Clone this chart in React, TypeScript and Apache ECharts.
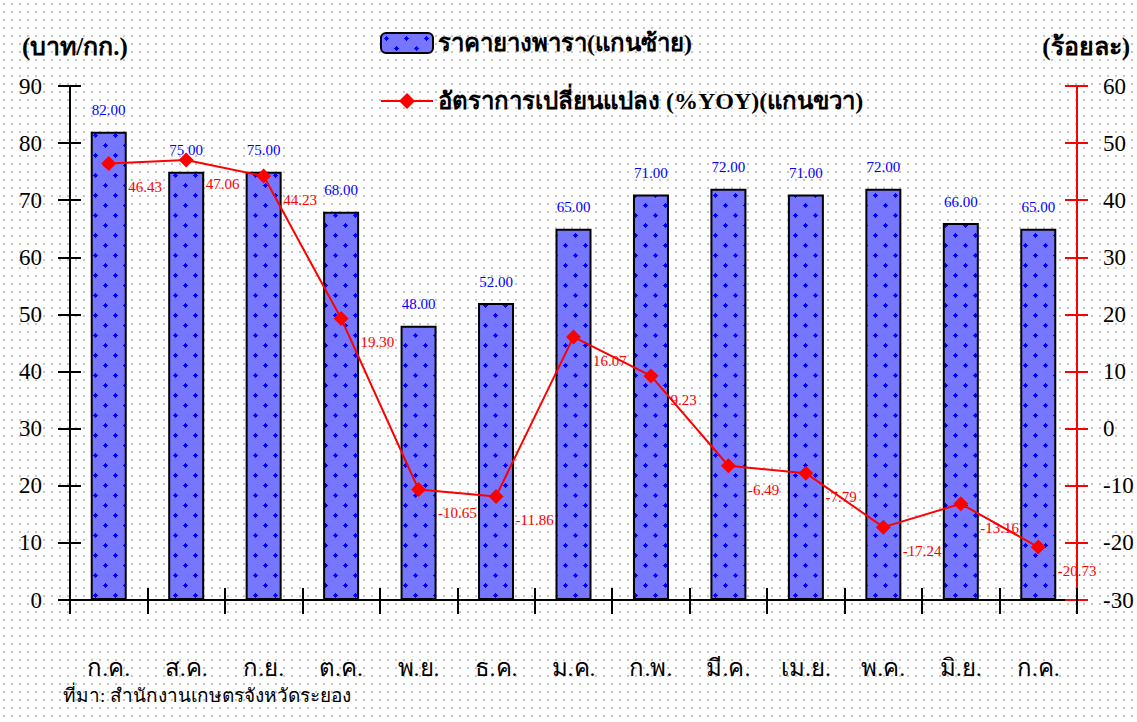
import React, { useEffect, useRef } from "react";
import * as echarts from "echarts";

const categories = ["ก.ค.", "ส.ค.", "ก.ย.", "ต.ค.", "พ.ย.", "ธ.ค.", "ม.ค.", "ก.พ.", "มี.ค.", "เม.ย.", "พ.ค.", "มิ.ย.", "ก.ค."];
const priceValues = [82, 75, 75, 68, 48, 52, 65, 71, 72, 71, 72, 66, 65];
const yoyValues = [46.43, 47.06, 44.23, 19.3, -10.65, -11.86, 16.07, 9.23, -6.49, -7.79, -17.24, -13.16, -20.73];
const leftTicks = { min: 0, max: 90, interval: 10 };
const rightTicks = { min: -30, max: 60, interval: 10 };

const FONT = "'Liberation Serif', 'DejaVu Serif', serif";

function makeBarPattern(): HTMLCanvasElement {
  const c = document.createElement("canvas");
  c.width = 20;
  c.height = 20;
  const ctx = c.getContext("2d")!;
  ctx.fillStyle = "#7676ff";
  ctx.fillRect(0, 0, 20, 20);
  ctx.fillStyle = "#0000ff";
  const plus = (cx: number, cy: number) => {
    ctx.fillRect(cx - 2, cy, 5, 1);
    ctx.fillRect(cx, cy - 2, 1, 5);
    ctx.fillRect(cx - 1, cy - 1, 3, 3);
  };
  plus(5, 5);
  plus(15, 15);
  return c;
}

export default function App() {
  const ref = useRef<HTMLDivElement>(null);
  useEffect(() => {
    if (!ref.current) return;
    const chart = echarts.init(ref.current, null, { renderer: "svg" });
    const pattern = makeBarPattern();
    const tickLeft = { lineStyle: { color: "#000", width: 2 } };
    chart.setOption({
      animation: false,
      backgroundColor: "transparent",
      textStyle: { fontFamily: FONT },
      grid: { left: 70, right: 60, top: 86, bottom: 122, containLabel: false },
      legend: {
        orient: "vertical",
        left: 375,
        top: 26,
        itemWidth: 52,
        itemHeight: 20,
        itemGap: 34,
        textStyle: { fontFamily: FONT, fontSize: 24, fontWeight: "bold", color: "#000", lineHeight: 24 },
        data: [
          { name: "ราคายางพารา(แกนซ้าย)" },
          { name: "อัตราการเปลี่ยนแปลง (%YOY)(แกนขวา)" },
        ],
      },
      xAxis: [
        {
          type: "category",
          data: categories,
          boundaryGap: true,
          axisLine: { onZero: false, lineStyle: { color: "#000", width: 2 } },
          axisTick: { show: true, length: 14, lineStyle: { color: "#000", width: 2 } },
          axisLabel: { color: "#000", fontSize: 24, fontFamily: FONT, margin: 56, interval: 0 },
          splitLine: { show: false },
        },
        {
          type: "category",
          data: categories,
          position: "bottom",
          boundaryGap: true,
          axisLine: { show: false, onZero: false },
          axisTick: { show: true, inside: true, length: 12, lineStyle: { color: "#000", width: 2 } },
          axisLabel: { show: false },
          splitLine: { show: false },
        },
      ],
      yAxis: [
        {
          type: "value",
          position: "left",
          min: leftTicks.min,
          max: leftTicks.max,
          interval: leftTicks.interval,
          axisLine: { show: true, onZero: false, lineStyle: { color: "#000", width: 2 } },
          axisTick: { show: true, length: 12, ...tickLeft },
          axisLabel: { color: "#000", fontSize: 23, fontFamily: FONT, margin: 28 },
          splitLine: { show: false },
        },
        {
          type: "value",
          position: "right",
          min: rightTicks.min,
          max: rightTicks.max,
          interval: rightTicks.interval,
          axisLine: { show: true, onZero: false, lineStyle: { color: "#ff0000", width: 2 } },
          axisTick: { show: true, length: 11, lineStyle: { color: "#ff0000", width: 2 } },
          axisLabel: { color: "#000", fontSize: 23, fontFamily: FONT, margin: 26 },
          splitLine: { show: false },
        },
        {
          type: "value",
          position: "left",
          min: leftTicks.min,
          max: leftTicks.max,
          interval: leftTicks.interval,
          axisLine: { show: false, onZero: false },
          axisTick: { show: true, inside: true, length: 11, ...tickLeft },
          axisLabel: { show: false },
          splitLine: { show: false },
        },
        {
          type: "value",
          position: "right",
          min: rightTicks.min,
          max: rightTicks.max,
          interval: rightTicks.interval,
          axisLine: { show: false, onZero: false },
          axisTick: { show: true, inside: true, length: 12, lineStyle: { color: "#ff0000", width: 2 } },
          axisLabel: { show: false },
          splitLine: { show: false },
        },
      ],
      graphic: [
        {
          type: "text",
          left: 22,
          top: 34,
          style: { text: "(บาท/กก.)", font: `bold 25px ${FONT}`, fill: "#000" },
        },
        {
          type: "text",
          right: 7,
          top: 34,
          style: { text: "(ร้อยละ)", font: `bold 25px ${FONT}`, fill: "#000" },
        },
        {
          type: "text",
          left: 63,
          top: 686,
          style: { text: "ที่มา: สำนักงานเกษตรจังหวัดระยอง", font: `19px ${FONT}`, fill: "#000" },
        },
      ],
      series: [
        {
          name: "ราคายางพารา(แกนซ้าย)",
          type: "bar",
          xAxisIndex: 0,
          yAxisIndex: 0,
          data: priceValues,
          barWidth: 36,
          itemStyle: {
            color: { image: pattern, repeat: "repeat" },
            borderColor: "#000",
            borderWidth: 2,
          },
          label: {
            show: true,
            position: "top",
            distance: 14,
            color: "#0000ff",
            fontSize: 15,
            fontFamily: FONT,
            formatter: (p: any) => Number(p.value).toFixed(2),
          },
          z: 2,
        },
        {
          name: "อัตราการเปลี่ยนแปลง (%YOY)(แกนขวา)",
          type: "line",
          xAxisIndex: 0,
          yAxisIndex: 1,
          data: yoyValues,
          symbol: "diamond",
          symbolSize: 15,
          lineStyle: { color: "#ff0000", width: 2 },
          itemStyle: { color: "#ff0000" },
          label: {
            show: true,
            position: "right",
            distance: 12,
            offset: [0, 24],
            color: "#ff0000",
            fontSize: 15,
            fontFamily: FONT,
            formatter: (p: any) => Number(p.value).toFixed(2),
          },
          z: 5,
        },
      ],
    });
    return () => chart.dispose();
  }, []);
  return (
    <div
      style={{
        position: "fixed",
        left: 0,
        top: 0,
        width: 1137,
        height: 722,
        backgroundColor: "#fff",
        backgroundImage: "radial-gradient(circle, #c4c4c4 1.1px, transparent 1.6px)",
        backgroundSize: "8px 8px",
      }}
    >
      <div ref={ref} style={{ width: 1137, height: 722 }} />
    </div>
  );
}
